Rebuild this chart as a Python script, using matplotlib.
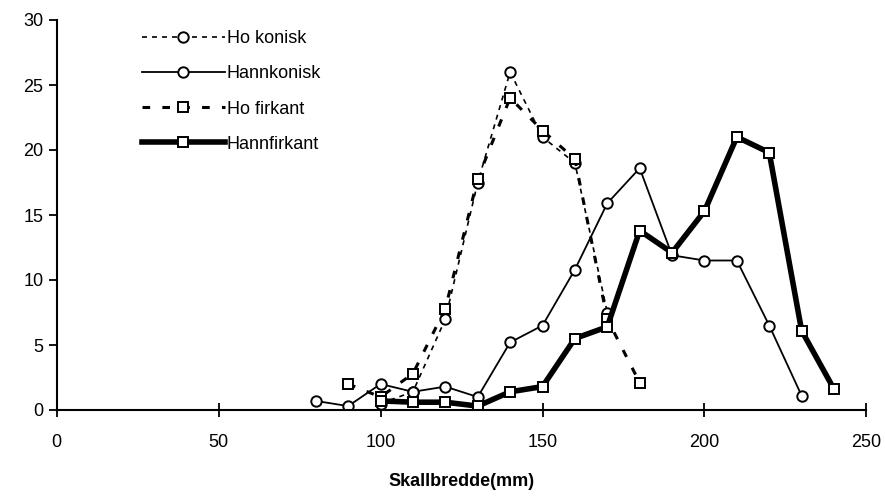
import matplotlib.pyplot as plt

plt.rcParams['font.family'] = ['Liberation Sans', 'DejaVu Sans']

# Data (skull width in mm vs count)
ho_konisk_x = [100, 110, 120, 130, 140, 150, 160, 170]
ho_konisk_y = [0.5, 1.4, 7.0, 17.5, 26.0, 21.0, 19.0, 7.5]

hann_konisk_x = [80, 90, 100, 110, 120, 130, 140, 150, 160, 170, 180, 190, 200, 210, 220, 230]
hann_konisk_y = [0.7, 0.3, 2.0, 1.4, 1.8, 1.0, 5.2, 6.5, 10.8, 15.9, 18.6, 11.9, 11.5, 11.5, 6.5, 1.1]

ho_firkant_x = [90, 100, 110, 120, 130, 140, 150, 160, 170, 180]
ho_firkant_y = [2.0, 1.0, 2.8, 7.8, 17.8, 24.0, 21.5, 19.3, 7.0, 2.1]

hann_firkant_x = [100, 110, 120, 130, 140, 150, 160, 170, 180, 190, 200, 210, 220, 230, 240]
hann_firkant_y = [0.7, 0.6, 0.6, 0.3, 1.4, 1.8, 5.5, 6.4, 13.8, 12.1, 15.3, 21.0, 19.8, 6.1, 1.6]

fig = plt.figure(figsize=(8.85, 5), dpi=100)
ax = fig.add_axes([0.064, 0.18, 0.915, 0.78])

ax.plot(ho_konisk_x, ho_konisk_y, color='black', lw=1.2, ls=(0, (3, 3)),
        marker='o', ms=7.5, mfc='white', mec='black', mew=1.4, label='Ho konisk')
ax.plot(hann_konisk_x, hann_konisk_y, color='black', lw=1.3,
        marker='o', ms=7.5, mfc='white', mec='black', mew=1.4, label='Hannkonisk')
ax.plot(ho_firkant_x, ho_firkant_y, color='black', lw=2.2, ls=(0, (2.5, 4)),
        marker='s', ms=7.5, mfc='white', mec='black', mew=1.4, label='Ho firkant')
ax.plot(hann_firkant_x, hann_firkant_y, color='black', lw=4,
        marker='s', ms=7.5, mfc='white', mec='black', mew=1.4, label='Hannfirkant')

ax.set_xlim(0, 250)
ax.set_ylim(0, 30)
ax.set_xticks(range(0, 251, 50))
ax.set_yticks(range(0, 31, 5))
ax.spines['top'].set_visible(False)
ax.spines['right'].set_visible(False)
ax.spines['left'].set_linewidth(1.5)
ax.spines['bottom'].set_linewidth(1.5)
ax.tick_params(axis='x', direction='inout', length=10, width=1.3, labelsize=13, pad=12)
ax.tick_params(axis='y', direction='out', length=6, width=1.3, labelsize=13)

ax.set_xlabel('Skallbredde(mm)', fontsize=13, fontweight='bold', labelpad=16)

ax.legend(loc='upper left', bbox_to_anchor=(0.085, 1.015), frameon=False, fontsize=13,
          handlelength=4.6, handletextpad=0.1, labelspacing=1.0)

plt.savefig('out.png', dpi=100)
